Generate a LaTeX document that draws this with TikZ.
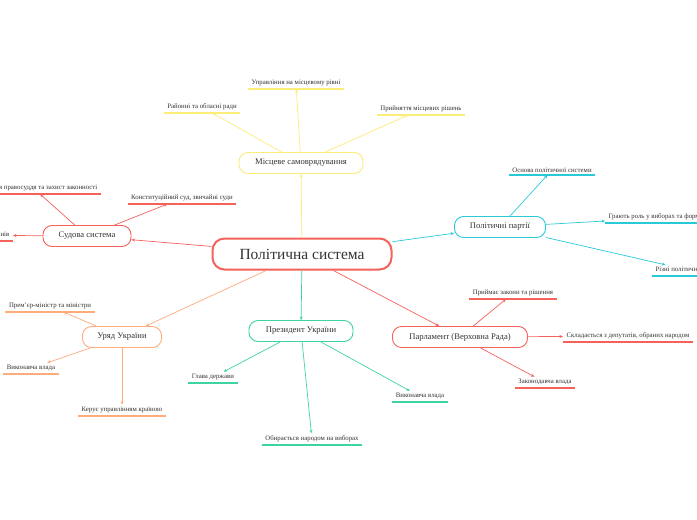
\documentclass[tikz,border=0pt]{standalone}
\usepackage{fontspec}
\setmainfont{Liberation Serif}
\usetikzlibrary{arrows.meta}
\definecolor{redc}{RGB}{245,98,92}
\definecolor{yellowc}{RGB}{252,236,120}
\definecolor{cyanc}{RGB}{40,202,216}
\definecolor{orangec}{RGB}{255,172,125}
\definecolor{greenc}{RGB}{62,212,160}
\definecolor{txt}{RGB}{51,51,51}

\begin{document}
\begin{tikzpicture}[x=1pt,y=-1pt,
    hub/.style={draw=#1, line width=0.9pt, rounded corners=9pt, minimum height=21pt,
        inner xsep=4pt, text=txt, fill=white, font=\fontsize{8.6}{10}\selectfont},
    leaf/.style={inner xsep=3.5pt, inner ysep=2.5pt, anchor=south, text=txt,
        font=\fontsize{6.8}{8}\selectfont,
        append after command={\pgfextra{\let\leafnode=\tikzlastnode}
            (\leafnode.south west) edge[draw=#1, line width=1.1pt] (\leafnode.south east)}},
    link/.style={draw=#1, line width=0.7pt, -{Stealth[length=3.5pt,width=3pt]}}]
    \useasboundingbox[fill=white] (0,0) rectangle (697,520);

% main node
    \node[draw=redc, line width=2pt, rounded corners=12pt, minimum width=179pt,
        minimum height=31pt, text=txt, font=\fontsize{15.5}{18}\selectfont] (ps) at (302,254) {Політична система};

% branches
    \node[hub=yellowc, minimum width=124pt] (loc) at (301,163) {Місцеве самоврядування};
    \node[hub=redc, minimum width=88pt] (sud) at (87,236) {Судова система};
    \node[hub=cyanc, minimum width=91pt] (part) at (500,227) {Політичні партії};
    \node[hub=orangec, minimum width=79pt] (ur) at (122,337) {Уряд України};
    \node[hub=greenc, minimum width=104pt] (prez) at (301,331) {Президент України};
    \node[hub=redc, minimum width=135pt] (parl) at (460,337) {Парламент (Верховна Рада)};

    \draw[link=yellowc] (ps) -- (loc);
    \draw[link=redc] (ps) -- (sud);
    \draw[link=cyanc] (ps) -- (part);
    \draw[link=orangec] (ps) -- (ur);
    \draw[link=greenc] (ps) -- (prez);
    \draw[link=redc] (ps) -- (parl);

% local self-government
    \node[leaf=yellowc] (y1) at (296,89) {Управління на місцевому рівні};
    \node[leaf=yellowc] (y2) at (202,113) {Районні та обласні ради};
    \node[leaf=yellowc] (y3) at (421,115) {Прийняття місцевих рішень};
    \draw[link=yellowc] (loc) -- (y1);
    \draw[link=yellowc] (loc) -- (y2);
    \draw[link=yellowc] (loc) -- (y3);

% courts
    \node[leaf=redc, anchor=south east] (s1) at (101,194) {Здійснення правосуддя та захист законності};
    \node[leaf=redc] (s2) at (182,204) {Конституційний суд, звичайні суди};
    \node[leaf=redc, anchor=south east] (s3) at (13,241) {Суди різних рівнів};
    \draw[link=redc] (sud) -- (s1);
    \draw[link=redc] (sud) -- (s2);
    \draw[link=redc] (sud) -- (s3);

% parties
    \node[leaf=cyanc] (p1) at (552,175) {Основа політичної системи};
    \node[leaf=cyanc, anchor=south west] (p2) at (605,223) {Грають роль у виборах та формуванні влади};
    \node[leaf=cyanc, anchor=south west] (p3) at (652,276) {Різні політичні погляди};
    \draw[link=cyanc] (part) -- (p1);
    \draw[link=cyanc] (part) -- (p2);
    \draw[link=cyanc] (part) -- (p3);

% government
    \node[leaf=orangec] (u1) at (50,312) {Прем’єр-міністр та міністри};
    \node[leaf=orangec] (u2) at (31,374) {Виконавча влада};
    \node[leaf=orangec] (u3) at (122,416) {Керує управлінням країною};
    \draw[link=orangec] (ur) -- (u1);
    \draw[link=orangec] (ur) -- (u2);
    \draw[link=orangec] (ur) -- (u3);

% president
    \node[leaf=greenc] (g1) at (213,383) {Глава держави};
    \node[leaf=greenc] (g2) at (420,402) {Виконавча влада};
    \node[leaf=greenc] (g3) at (312,445) {Обирається народом на виборах};
    \draw[link=greenc] (prez) -- (g1);
    \draw[link=greenc] (prez) -- (g2);
    \draw[link=greenc] (prez) -- (g3);

% parliament
    \node[leaf=redc] (r1) at (513,299) {Приймає закони та рішення};
    \node[leaf=redc] (r2) at (628,342) {Складається з депутатів, обраних народом};
    \node[leaf=redc] (r3) at (545,388) {Законодавча влада};
    \draw[link=redc] (parl) -- (r1);
    \draw[link=redc] (parl) -- (r2);
    \draw[link=redc] (parl) -- (r3);
\end{tikzpicture}
\end{document}
